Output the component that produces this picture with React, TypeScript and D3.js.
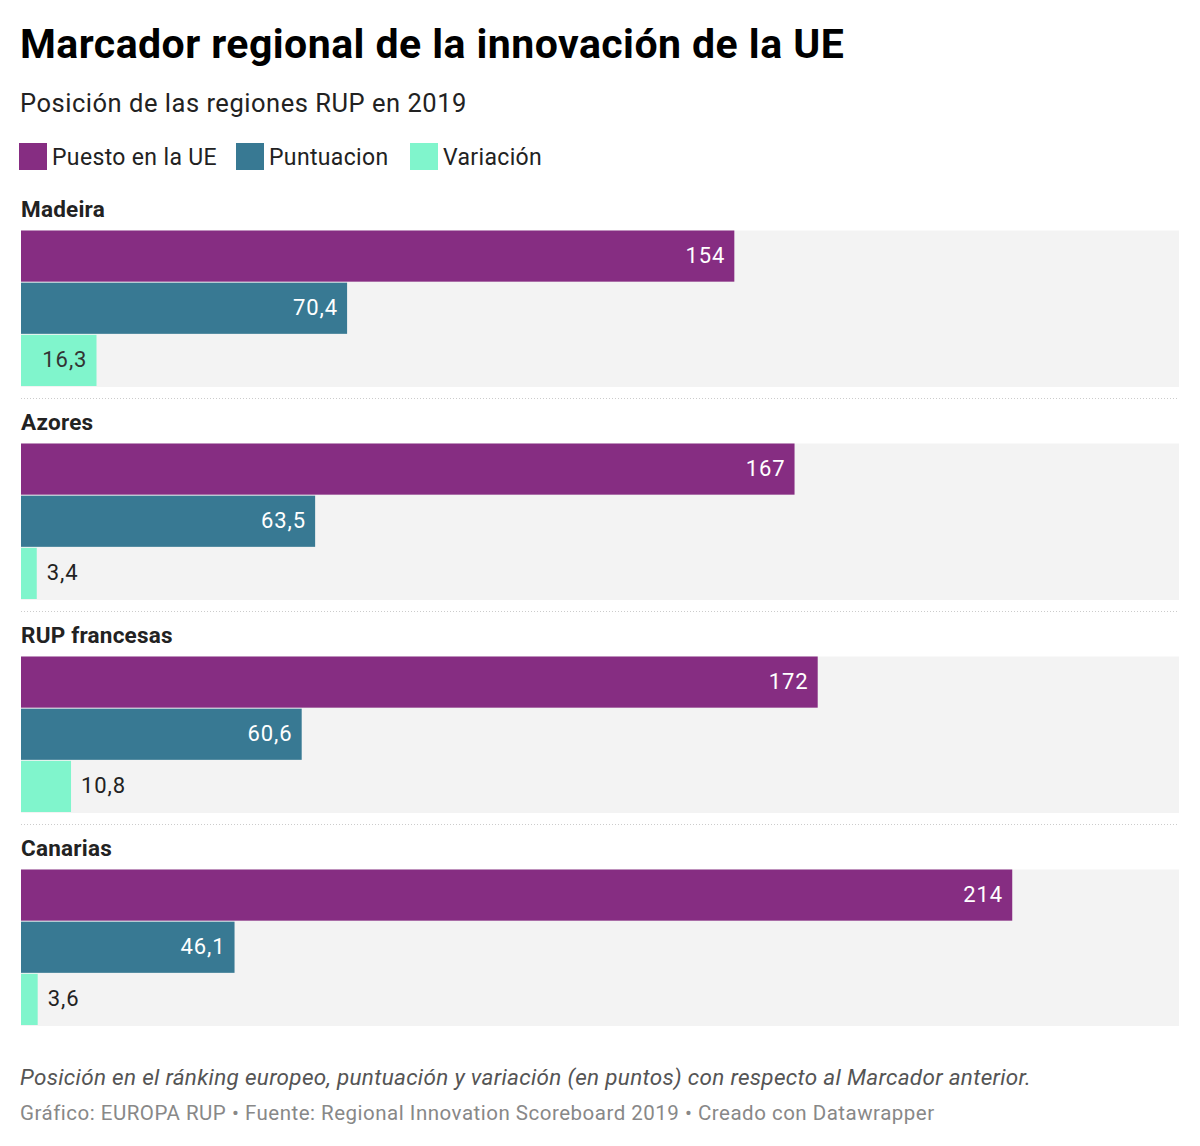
import * as d3 from "d3";

const regions = ["Madeira", "Azores", "RUP francesas", "Canarias"];
const seriesNames = ["Puesto en la UE", "Puntuacion", "Variación"];
const puesto = [154, 167, 172, 214];
const puntuacion = [70.4, 63.5, 60.6, 46.1];
const variacion = [16.3, 3.4, 10.8, 3.6];
const colors = ["#862d82", "#387993", "#80f5cc"];
const labelColors = ["#ffffff", "#ffffff", "#333333"];

const W = 1200;
const H = 1146;
const font = "Roboto, sans-serif";

const fmt = (v: number) => (Number.isInteger(v) ? String(v) : v.toFixed(1).replace(".", ","));

export default function App() {
  const values = [puesto, puntuacion, variacion];
  const left = 21;
  const right = 1179;
  const x = d3.scaleLinear().domain([0, 250]).range([left, right]);

  // vertical placement of each group
  const groupY = d3.scaleBand<string>().domain(regions).range([230.5, 230.5 + 213 * 4]).paddingInner(0);
  const bandH = 156.5;
  const barY = d3.scaleBand<number>().domain([0, 1, 2]).range([0, bandH]);

  const legendX = [19, 236, 410];
  const ls = 0.9;

  return (
    <div style={{ position: "absolute", left: 0, top: 0 }}>
      <svg width={W} height={H} style={{ display: "block", background: "#fff" }} fontFamily={font}>
        <text x={20} y={58} fontSize={41} fontWeight={700} fill="#000" letterSpacing={0.45}>
          Marcador regional de la innovación de la UE
        </text>
        <text x={20} y={112} fontSize={25.5} fill="#222" letterSpacing={0.52}>
          Posición de las regiones RUP en 2019
        </text>
        {seriesNames.map((s, i) => (
          <g key={s} transform={`translate(${legendX[i]},143)`}>
            <rect width={28} height={27} fill={colors[i]} />
            <text x={33} y={22} fontSize={23} fill="#222" letterSpacing={0.35}>{s}</text>
          </g>
        ))}
        {regions.map((r, gi) => {
          const y0 = groupY(r)!;
          return (
            <g key={r} transform={`translate(0,${y0})`}>
              <text x={21} y={-14} fontSize={22.5} fontWeight={700} fill="#222" letterSpacing={0.22}>{r}</text>
              <rect x={left} y={0} width={right - left} height={bandH} fill="#f3f3f3" />
              {values.map((vals, si) => {
                const v = vals[gi];
                const by = barY(si)!;
                const bh = barY.bandwidth() - 1;
                const bw = x(v) - x(0);
                const inside = bw > 60;
                const label = fmt(v);
                return (
                  <g key={si}>
                    <rect x={x(0)} y={by} width={bw} height={bh} fill={colors[si]} />
                    <text
                      x={inside ? x(v) - 10 + ls : x(v) + 10}
                      y={by + bh / 2 - 1}
                      dy="0.36em"
                      fontSize={22}
                      letterSpacing={ls}
                      textAnchor={inside ? "end" : "start"}
                      fill={inside ? labelColors[si] : "#222"}
                    >
                      {label}
                    </text>
                  </g>
                );
              })}
              {gi < regions.length - 1 && (
                <line
                  x1={left}
                  x2={right}
                  y1={bandH + 11.5}
                  y2={bandH + 11.5}
                  stroke="#cccccc"
                  strokeWidth={1}
                  strokeDasharray="1,2"
                />
              )}
            </g>
          );
        })}
        <text x={20} y={1085} fontSize={22.5} fontStyle="italic" fill="#555" letterSpacing={0.3}>
          Posición en el ránking europeo, puntuación y variación (en puntos) con respecto al Marcador anterior.
        </text>
        <text x={20} y={1120} fontSize={20.5} fill="#888" letterSpacing={0.5}>
          Gráfico: EUROPA RUP • Fuente: Regional Innovation Scoreboard 2019 • Creado con Datawrapper
        </text>
      </svg>
    </div>
  );
}
